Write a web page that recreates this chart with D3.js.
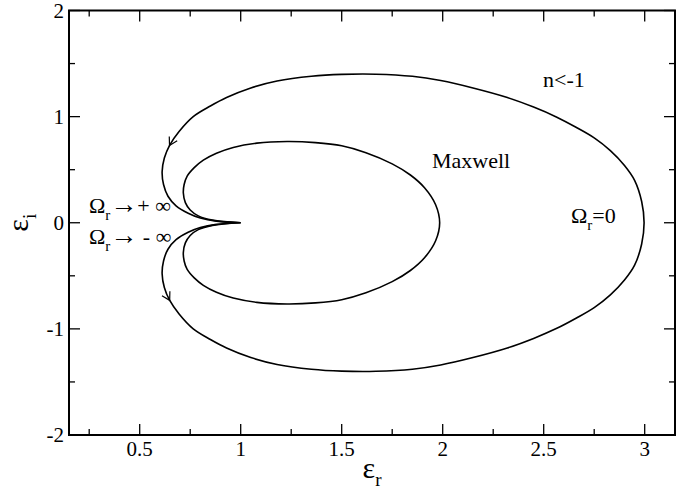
<!DOCTYPE html>
<html>
<head>
<meta charset="utf-8">
<script src="https://cdn.jsdelivr.net/npm/d3@7"></script>
<style>
  body { margin: 0; background: #fff; }
  svg text { font-family: "Liberation Serif", "Times New Roman", serif; fill: #000; }
</style>
</head>
<body>
<svg id="chart" width="689" height="494" viewBox="0 0 689 494" font-family="Liberation Serif, serif"></svg>
<script>
// --- data (eps_r, eps_i), traversal order starts at the cusp ---
const outerCurve = [
  [1.0, 0], [0.88, -0.015], [0.8, -0.045], [0.74, -0.09], [0.68, -0.16], [0.64, -0.25],
  [0.618, -0.36], [0.611, -0.48], [0.622, -0.61], [0.648, -0.73], [0.695, -0.86], [0.765, -1.0],
  [0.85, -1.1], [0.93, -1.18], [1.05, -1.27], [1.18, -1.335], [1.35, -1.38], [1.5, -1.398],
  [1.67, -1.4], [1.85, -1.38], [1.99, -1.34], [2.15, -1.27], [2.32, -1.18], [2.45, -1.09],
  [2.565, -0.995], [2.66, -0.9], [2.75, -0.8], [2.83, -0.68], [2.9, -0.54], [2.95, -0.4],
  [2.985, -0.2], [2.997, 0],
  [2.985, 0.2], [2.95, 0.4], [2.9, 0.54], [2.83, 0.68], [2.75, 0.8], [2.66, 0.9],
  [2.565, 0.995], [2.45, 1.09], [2.32, 1.18], [2.15, 1.27], [1.99, 1.34], [1.85, 1.38],
  [1.67, 1.4], [1.5, 1.398], [1.35, 1.38], [1.18, 1.335], [1.05, 1.27], [0.93, 1.18],
  [0.85, 1.1], [0.765, 1.0], [0.695, 0.86], [0.648, 0.73], [0.622, 0.61], [0.611, 0.48],
  [0.618, 0.36], [0.64, 0.25], [0.68, 0.16], [0.74, 0.09], [0.8, 0.045], [0.88, 0.015], [1.0, 0]
];
const maxwellCurve = [
  [1.0, 0], [0.86, -0.025], [0.79, -0.065], [0.75, -0.12], [0.726, -0.19], [0.716, -0.28],
  [0.72, -0.36], [0.735, -0.44], [0.77, -0.52], [0.815, -0.59], [0.88, -0.655], [0.963, -0.71],
  [1.08, -0.75], [1.23, -0.765], [1.37, -0.755], [1.5, -0.725], [1.62, -0.66], [1.75, -0.555],
  [1.84, -0.45], [1.91, -0.33], [1.965, -0.17], [1.985, 0],
  [1.965, 0.17], [1.91, 0.33], [1.84, 0.45], [1.75, 0.555], [1.62, 0.66], [1.5, 0.725],
  [1.37, 0.755], [1.23, 0.765], [1.08, 0.75], [0.963, 0.71], [0.88, 0.655], [0.815, 0.59],
  [0.77, 0.52], [0.735, 0.44], [0.72, 0.36], [0.716, 0.28], [0.726, 0.19], [0.75, 0.12],
  [0.79, 0.065], [0.86, 0.025], [1.0, 0]
];
// where the direction arrows sit on the outer curve
const arrowSpots = [[0.648, 0.73], [0.648, -0.73]];

const xMajor = [0.5, 1, 1.5, 2, 2.5, 3];
const xMinor = [0.25, 0.75, 1.25, 1.75, 2.25, 2.75];
const yMajor = [-2, -1, 0, 1, 2];
const yMinor = [-1.5, -0.5, 0.5, 1.5];

const svg = d3.select("#chart");
const margin = { left: 69, right: 14, top: 10.5, bottom: 59 };
const width = 689, height = 494;
const serif = "'Liberation Serif', 'Times New Roman', serif";

const x = d3.scaleLinear().domain([0.15, 3.15]).range([margin.left, width - margin.right]);
const y = d3.scaleLinear().domain([-2, 2]).range([height - margin.bottom, margin.top]);

const x0 = x.range()[0], x1 = x.range()[1];
const y0 = y.range()[0], y1 = y.range()[1];

// --- ticks (all point inward, on all four sides) ---
const tickG = svg.append("g").attr("stroke", "#000").attr("stroke-width", 1.3);
function xTicks(vals, len) {
  vals.forEach(v => {
    tickG.append("line").attr("x1", x(v)).attr("x2", x(v)).attr("y1", y0).attr("y2", y0 - len);
    tickG.append("line").attr("x1", x(v)).attr("x2", x(v)).attr("y1", y1).attr("y2", y1 + len);
  });
}
function yTicks(vals, len) {
  vals.forEach(v => {
    tickG.append("line").attr("y1", y(v)).attr("y2", y(v)).attr("x1", x0).attr("x2", x0 + len);
    tickG.append("line").attr("y1", y(v)).attr("y2", y(v)).attr("x1", x1).attr("x2", x1 - len);
  });
}
xTicks(xMajor, 11);
xTicks(xMinor, 6);
yTicks(yMajor, 11);
yTicks(yMinor, 6);

// frame
svg.append("rect")
  .attr("x", x0).attr("y", y1)
  .attr("width", x1 - x0).attr("height", y0 - y1)
  .attr("fill", "none").attr("stroke", "#000").attr("stroke-width", 2);

// tick labels
svg.append("g").selectAll("text")
  .data(xMajor).join("text")
  .attr("x", d => x(d)).attr("y", 456)
  .attr("text-anchor", "middle")
  .style("font-family", serif)
  .style("font-size", "21px")
  .text(d => d3.format("")(d));

svg.append("g").selectAll("text")
  .data(yMajor).join("text")
  .attr("x", x0 - 5).attr("y", d => y(d))
  .attr("dy", "0.34em")
  .attr("text-anchor", "end")
  .style("font-family", serif)
  .style("font-size", "21px")
  .text(d => d);

// axis titles
const xt = svg.append("text")
  .attr("x", (x0 + x1) / 2).attr("y", 478)
  .attr("text-anchor", "middle")
  .style("font-family", serif)
  .style("font-size", "30px")
  .text("ε");
xt.append("tspan").attr("dy", 8).style("font-size", "19px").text("r");

const yt = svg.append("text")
  .attr("transform", `translate(28,${(y0 + y1) / 2}) rotate(-90)`)
  .attr("text-anchor", "middle")
  .style("font-family", serif)
  .style("font-size", "30px")
  .text("ε");
yt.append("tspan").attr("dy", 8).style("font-size", "19px").text("i");

// --- curves ---
const line = d3.line()
  .x(d => x(d[0]))
  .y(d => y(d[1]))
  .curve(d3.curveCatmullRom.alpha(0.5));

const curveG = svg.append("g").attr("fill", "none").attr("stroke", "#000").attr("stroke-width", 1.6);
const outerPath = curveG.append("path").attr("d", line(outerCurve));
curveG.append("path").attr("d", line(maxwellCurve));

// open arrow heads following the outer curve's direction
const pNode = outerPath.node();
const total = pNode.getTotalLength();
arrowSpots.forEach(s => {
  const px = x(s[0]), py = y(s[1]);
  let best = 0, bestD = Infinity;
  for (let l = 0; l <= total; l += 0.5) {
    const p = pNode.getPointAtLength(l);
    const dd = (p.x - px) ** 2 + (p.y - py) ** 2;
    if (dd < bestD) { bestD = dd; best = l; }
  }
  const a = pNode.getPointAtLength(best - 2), b = pNode.getPointAtLength(best + 2);
  const tip = pNode.getPointAtLength(best);
  const ang = Math.atan2(b.y - a.y, b.x - a.x);
  const len = 9, spread = Math.PI / 6;
  const pts = [
    [tip.x - len * Math.cos(ang - spread), tip.y - len * Math.sin(ang - spread)],
    [tip.x, tip.y],
    [tip.x - len * Math.cos(ang + spread), tip.y - len * Math.sin(ang + spread)]
  ];
  curveG.append("path").attr("stroke-width", 1.2).attr("d", d3.line()(pts));
});

// --- annotations ---
function label(px, py, parts) {
  const t = svg.append("text").attr("x", px).attr("y", py)
    .style("font-family", serif).style("font-size", "22px");
  parts.forEach(p => {
    const ts = t.append("tspan").text(p.text);
    if (p.sub) ts.attr("dy", 7).style("font-size", "15px");
    if (p.back) ts.attr("dy", -7);
    if (p.big) ts.style("font-size", p.big);
  });
  return t;
}
label(89, 213, [{ text: "Ω" }, { text: "r", sub: true }, { text: "→", back: true, big: "27px" }, { text: "+ ∞" }]);
label(89, 244, [{ text: "Ω" }, { text: "r", sub: true }, { text: "→", back: true, big: "27px" }, { text: " - ∞" }]);
label(543, 87, [{ text: "n<-1" }]);
label(432, 168, [{ text: "Maxwell" }]);
label(571, 223, [{ text: "Ω" }, { text: "r", sub: true }, { text: "=0", back: true }]);
</script>
</body>
</html>
